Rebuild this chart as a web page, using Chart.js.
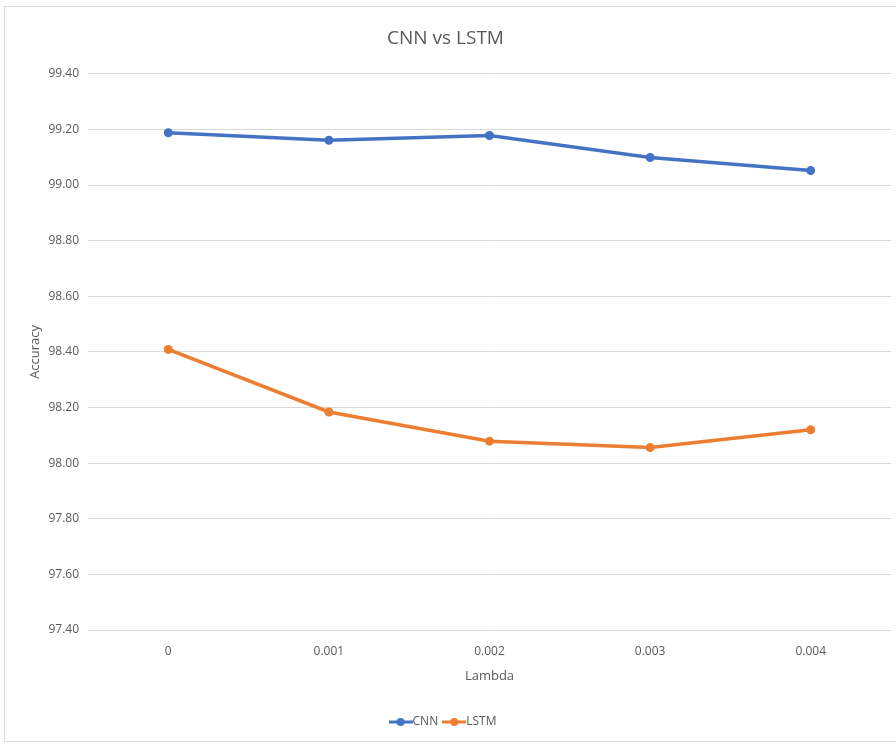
<!DOCTYPE html>
<html>
<head>
<meta charset="utf-8">
<script src="https://cdn.jsdelivr.net/npm/chart.js@4/dist/chart.umd.min.js"></script>
<style>
  html, body { margin: 0; padding: 0; background: #fff; }
  #wrap { position: relative; width: 896px; height: 746px; }
</style>
</head>
<body>
<div id="wrap"><canvas id="c" width="896" height="746"></canvas></div>
<script>
// Regularisation strength (lambda) on the x axis
const lambdas = ['0', '0.001', '0.002', '0.003', '0.004'];
// Test accuracy (%) for each model
const cnnAccuracy = [99.188, 99.161, 99.178, 99.099, 99.052];
const lstmAccuracy = [98.409, 98.184, 98.079, 98.056, 98.120];
// Value axis range and step
const yMin = 97.4, yMax = 99.4, yStep = 0.2;

const FONT = "'Liberation Sans Narrow', 'Open Sans', sans-serif";
const TEXT = '#595959';
const BLUE = '#4472C4';
const ORANGE = '#ED7D31';

// Small legend swatch: a short line with a round marker
function swatch(color) {
  const cv = document.createElement('canvas');
  cv.width = 24; cv.height = 10;
  const g = cv.getContext('2d');
  g.strokeStyle = color; g.lineWidth = 3;
  g.beginPath(); g.moveTo(0, 5); g.lineTo(24, 5); g.stroke();
  g.fillStyle = color;
  g.beginPath(); g.arc(12, 5, 4, 0, Math.PI * 2); g.fill();
  return cv;
}

// Thin frame around the whole chart
const frame = {
  id: 'frame',
  afterDraw(chart) {
    const ctx = chart.ctx;
    ctx.save();
    ctx.strokeStyle = '#d9d9d9';
    ctx.lineWidth = 1;
    ctx.strokeRect(4.5, 6.5, 900, 735);
    ctx.restore();
  }
};

new Chart(document.getElementById('c'), {
  type: 'line',
  data: {
    labels: lambdas,
    datasets: [
      { label: 'CNN', data: cnnAccuracy, borderColor: BLUE, backgroundColor: BLUE,
        borderWidth: 3.5, pointRadius: 4.5, pointHoverRadius: 4.5, pointBorderWidth: 0, tension: 0 },
      { label: 'LSTM', data: lstmAccuracy, borderColor: ORANGE, backgroundColor: ORANGE,
        borderWidth: 3.5, pointRadius: 4.5, pointHoverRadius: 4.5, pointBorderWidth: 0, tension: 0 }
    ]
  },
  options: {
    responsive: false,
    animation: false,
    layout: { padding: { left: 0, right: 5, top: 0, bottom: 8 } },
    plugins: {
      title: {
        display: true, text: 'CNN vs LSTM', color: TEXT,
        font: { family: FONT, size: 19, weight: 'normal' },
        padding: { top: 27, bottom: 24 }
      },
      legend: {
        position: 'bottom',
        labels: {
          color: TEXT, font: { family: FONT, size: 12 },
          usePointStyle: true, boxWidth: 24, boxHeight: 10, padding: 10,
          generateLabels(chart) {
            return chart.data.datasets.map((ds, i) => ({
              text: ds.label, fontColor: TEXT, pointStyle: swatch(ds.borderColor),
              datasetIndex: i, hidden: false, lineWidth: 0
            }));
          }
        }
      },
      tooltip: { enabled: false }
    },
    scales: {
      x: {
        offset: true,
        grid: { display: false, drawTicks: false },
        border: { display: false },
        ticks: { color: TEXT, font: { family: FONT, size: 12 }, padding: 14 },
        title: { display: true, text: 'Lambda', color: TEXT, font: { family: FONT, size: 13 }, padding: { top: 8, bottom: 22 } },
        afterFit(s) { s.height = 76; }
      },
      y: {
        min: yMin, max: yMax,
        grid: { color: '#d9d9d9', lineWidth: 1, drawTicks: false },
        border: { display: false },
        ticks: { stepSize: yStep, color: TEXT, font: { family: FONT, size: 12 }, padding: 9,
                 callback: v => Number(v).toFixed(2) },
        title: { display: true, text: 'Accuracy', color: TEXT, font: { family: FONT, size: 13 }, padding: { top: 27, bottom: 0 } },
        afterFit(s) { s.width = 88; }
      }
    }
  },
  plugins: [frame]
});
</script>
</body>
</html>
